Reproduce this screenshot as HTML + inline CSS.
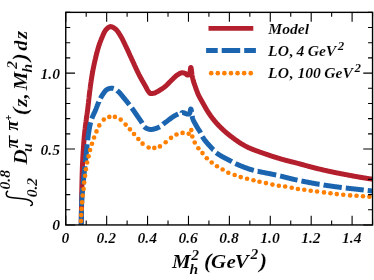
<!DOCTYPE html>
<html><head><meta charset="utf-8"><title>plot</title>
<style>html,body{margin:0;padding:0;background:#fff;}svg{display:block;will-change:transform;}text{font-family:"Liberation Serif",serif;font-weight:bold;font-style:italic;fill:#000;stroke:#fff;stroke-width:0.12px;}</style></head>
<body>
<svg width="374" height="280" viewBox="0 0 374 280">
<rect width="374" height="280" fill="#fff"/>
<defs><clipPath id="c"><rect x="65.75" y="12.35" width="306.8" height="212.6"/></clipPath></defs>
<g clip-path="url(#c)" fill="none" stroke-linejoin="round">
<path d="M81.20,224.70 L81.21,224.20 L81.21,223.70 L81.22,223.20 L81.23,222.70 L81.23,222.20 L81.24,221.70 L81.25,221.20 L81.25,220.70 L81.26,220.20 L81.27,219.70 L81.28,219.20 L81.28,218.70 L81.29,218.20 L81.30,217.70 L81.31,217.20 L81.31,216.70 L81.32,216.20 L81.33,215.70 L81.34,215.20 L81.34,214.70 L81.35,214.20 L81.36,213.70 L81.37,213.20 L81.38,212.70 L81.38,212.20 L81.39,211.70 L81.40,211.20 L81.41,210.70 L81.42,210.20 L81.43,209.70 L81.43,209.20 L81.44,208.70 L81.45,208.20 L81.46,207.70 L81.47,207.20 L81.48,206.70 L81.49,206.20 L81.49,205.70 L81.50,205.20 L81.51,204.70 L81.52,204.20 L81.53,203.70 L81.54,203.20 L81.55,202.70 L81.56,202.20 L81.57,201.70 L81.58,201.20 L81.59,200.70 L81.60,200.20 L81.61,199.70 L81.62,199.20 L81.62,198.70 L81.63,198.20 L81.64,197.70 L81.65,197.20 L81.66,196.70 L81.67,196.20 L81.68,195.70 L81.69,195.20 L81.70,194.70 L81.71,194.20 L81.72,193.70 L81.73,193.20 L81.74,192.70 L81.75,192.20 L81.76,191.70 L81.77,191.20 L81.78,190.70 L81.79,190.20 L81.80,189.70 L81.81,189.20 L81.82,188.70 L81.83,188.20 L81.84,187.70 L81.85,187.20 L81.86,186.70 L81.87,186.20 L81.88,185.70 L81.89,185.20 L81.90,184.70 L81.91,184.20 L81.93,183.70 L81.94,183.20 L81.95,182.70 L81.96,182.21 L81.97,181.71 L81.98,181.21 L82.00,180.71 L82.01,180.21 L82.02,179.71 L82.03,179.21 L82.05,178.71 L82.06,178.21 L82.07,177.71 L82.09,177.21 L82.10,176.71 L82.11,176.21 L82.13,175.71 L82.14,175.21 L82.15,174.71 L82.17,174.21 L82.18,173.71 L82.20,173.21 L82.21,172.71 L82.23,172.21 L82.24,171.71 L82.26,171.21 L82.28,170.71 L82.29,170.21 L82.31,169.71 L82.33,169.21 L82.34,168.71 L82.36,168.21 L82.38,167.71 L82.40,167.21 L82.42,166.71 L82.44,166.21 L82.46,165.71 L82.48,165.22 L82.50,164.72 L82.52,164.22 L82.54,163.72 L82.57,163.22 L82.59,162.72 L82.61,162.22 L82.63,161.72 L82.66,161.22 L82.68,160.72 L82.71,160.22 L82.73,159.72 L82.76,159.22 L82.78,158.72 L82.81,158.22 L82.84,157.72 L82.86,157.22 L82.89,156.72 L82.92,156.22 L82.95,155.72 L82.97,155.22 L83.00,154.72 L83.03,154.23 L83.06,153.73 L83.09,153.23 L83.12,152.73 L83.15,152.23 L83.18,151.73 L83.21,151.23 L83.25,150.73 L83.28,150.23 L83.31,149.73 L83.34,149.23 L83.38,148.73 L83.41,148.24 L83.44,147.74 L83.48,147.24 L83.51,146.74 L83.54,146.24 L83.58,145.74 L83.61,145.24 L83.65,144.74 L83.69,144.25 L83.72,143.75 L83.76,143.25 L83.79,142.75 L83.83,142.25 L83.87,141.75 L83.90,141.25 L83.94,140.76 L83.98,140.26 L84.02,139.76 L84.06,139.26 L84.10,138.76 L84.14,138.27 L84.18,137.77 L84.23,137.27 L84.27,136.77 L84.32,136.28 L84.37,135.78 L84.41,135.28 L84.46,134.78 L84.51,134.29 L84.56,133.79 L84.62,133.29 L84.67,132.79 L84.72,132.30 L84.78,131.80 L84.83,131.30 L84.89,130.80 L84.94,130.31 L85.00,129.81 L85.06,129.31 L85.12,128.82 L85.17,128.32 L85.23,127.82 L85.29,127.33 L85.35,126.83 L85.41,126.33 L85.47,125.84 L85.53,125.34 L85.60,124.84 L85.66,124.35 L85.72,123.85 L85.78,123.35 L85.84,122.86 L85.90,122.36 L85.97,121.87 L86.03,121.37 L86.09,120.87 L86.15,120.38 L86.21,119.88 L86.28,119.39 L86.34,118.89 L86.41,118.39 L86.48,117.90 L86.55,117.40 L86.62,116.91 L86.69,116.41 L86.76,115.92 L86.83,115.42 L86.91,114.93 L86.98,114.43 L87.05,113.94 L87.12,113.44 L87.20,112.95 L87.27,112.45 L87.34,111.96 L87.41,111.46 L87.47,110.97 L87.54,110.47 L87.60,109.98 L87.67,109.48 L87.73,108.99 L87.79,108.49 L87.85,107.99 L87.91,107.50 L87.97,107.00 L88.02,106.50 L88.08,106.01 L88.14,105.51 L88.19,105.01 L88.25,104.52 L88.31,104.02 L88.36,103.52 L88.42,103.03 L88.47,102.53 L88.52,102.03 L88.58,101.53 L88.63,101.04 L88.68,100.54 L88.74,100.04 L88.79,99.54 L88.85,99.05 L88.90,98.55 L88.95,98.05 L89.01,97.56 L89.06,97.06 L89.12,96.56 L89.17,96.06 L89.23,95.57 L89.29,95.07 L89.34,94.57 L89.40,94.08 L89.46,93.58 L89.52,93.08 L89.58,92.59 L89.64,92.09 L89.70,91.60 L89.76,91.10 L89.82,90.60 L89.89,90.11 L89.95,89.61 L90.02,89.12 L90.08,88.62 L90.15,88.13 L90.21,87.63 L90.28,87.13 L90.35,86.64 L90.41,86.14 L90.48,85.65 L90.55,85.15 L90.62,84.66 L90.69,84.16 L90.76,83.67 L90.83,83.17 L90.90,82.68 L90.97,82.18 L91.05,81.69 L91.12,81.19 L91.19,80.70 L91.27,80.20 L91.34,79.71 L91.42,79.21 L91.49,78.72 L91.57,78.22 L91.65,77.73 L91.72,77.24 L91.80,76.74 L91.88,76.25 L91.96,75.75 L92.04,75.26 L92.13,74.77 L92.21,74.28 L92.29,73.78 L92.38,73.29 L92.46,72.80 L92.55,72.31 L92.63,71.81 L92.72,71.32 L92.81,70.83 L92.90,70.34 L92.99,69.85 L93.09,69.36 L93.18,68.87 L93.28,68.38 L93.38,67.89 L93.48,67.39 L93.58,66.90 L93.68,66.41 L93.78,65.93 L93.89,65.44 L93.99,64.95 L94.10,64.46 L94.20,63.97 L94.31,63.48 L94.42,62.99 L94.53,62.50 L94.64,62.02 L94.75,61.53 L94.86,61.04 L94.97,60.55 L95.08,60.07 L95.20,59.58 L95.31,59.09 L95.43,58.61 L95.54,58.12 L95.66,57.63 L95.77,57.15 L95.89,56.66 L96.01,56.17 L96.13,55.69 L96.25,55.20 L96.37,54.71 L96.49,54.23 L96.61,53.74 L96.74,53.26 L96.86,52.77 L96.99,52.29 L97.12,51.80 L97.25,51.32 L97.38,50.84 L97.51,50.36 L97.65,49.88 L97.79,49.40 L97.92,48.92 L98.06,48.44 L98.21,47.96 L98.35,47.48 L98.50,47.01 L98.65,46.53 L98.80,46.05 L98.95,45.58 L99.11,45.10 L99.27,44.63 L99.43,44.15 L99.59,43.68 L99.76,43.21 L99.93,42.73 L100.10,42.26 L100.27,41.79 L100.45,41.32 L100.62,40.85 L100.81,40.39 L100.99,39.92 L101.18,39.45 L101.36,38.99 L101.55,38.53 L101.75,38.07 L101.94,37.61 L102.14,37.16 L102.34,36.70 L102.55,36.24 L102.75,35.77 L102.95,35.30 L103.16,34.82 L103.37,34.35 L103.58,33.87 L103.80,33.40 L104.02,32.93 L104.25,32.47 L104.48,32.01 L104.73,31.57 L104.98,31.15 L105.24,30.73 L105.52,30.34 L105.80,29.97 L106.10,29.61 L106.41,29.27 L106.76,28.91 L107.14,28.54 L107.55,28.17 L107.97,27.82 L108.41,27.48 L108.86,27.19 L109.32,26.94 L109.77,26.75 L110.22,26.63 L110.65,26.60 L111.10,26.64 L111.56,26.75 L112.03,26.91 L112.50,27.12 L112.98,27.36 L113.45,27.63 L113.91,27.92 L114.35,28.22 L114.78,28.53 L115.17,28.83 L115.54,29.11 L115.90,29.42 L116.24,29.74 L116.58,30.09 L116.90,30.45 L117.22,30.83 L117.53,31.23 L117.83,31.64 L118.13,32.05 L118.42,32.48 L118.71,32.92 L118.99,33.36 L119.26,33.80 L119.53,34.24 L119.80,34.68 L120.07,35.12 L120.33,35.55 L120.59,35.98 L120.84,36.40 L121.10,36.83 L121.35,37.26 L121.59,37.69 L121.83,38.13 L122.07,38.57 L122.30,39.01 L122.53,39.46 L122.76,39.90 L122.98,40.35 L123.20,40.80 L123.43,41.25 L123.64,41.70 L123.86,42.15 L124.08,42.61 L124.30,43.06 L124.51,43.51 L124.73,43.97 L124.94,44.42 L125.16,44.87 L125.37,45.33 L125.59,45.78 L125.81,46.23 L126.03,46.68 L126.24,47.13 L126.46,47.58 L126.67,48.03 L126.88,48.48 L127.10,48.94 L127.31,49.39 L127.52,49.84 L127.73,50.30 L127.93,50.75 L128.14,51.20 L128.35,51.66 L128.56,52.11 L128.77,52.57 L128.97,53.03 L129.18,53.48 L129.39,53.94 L129.59,54.39 L129.80,54.85 L130.01,55.30 L130.21,55.76 L130.42,56.21 L130.63,56.67 L130.83,57.12 L131.04,57.58 L131.25,58.03 L131.46,58.49 L131.67,58.94 L131.88,59.39 L132.09,59.85 L132.30,60.30 L132.51,60.76 L132.72,61.21 L132.93,61.67 L133.13,62.12 L133.34,62.58 L133.55,63.03 L133.76,63.49 L133.96,63.94 L134.17,64.40 L134.38,64.85 L134.58,65.31 L134.79,65.76 L135.00,66.22 L135.21,66.67 L135.42,67.13 L135.63,67.58 L135.84,68.04 L136.05,68.49 L136.26,68.95 L136.47,69.40 L136.68,69.85 L136.89,70.30 L137.11,70.76 L137.32,71.21 L137.54,71.66 L137.76,72.11 L137.98,72.56 L138.20,73.00 L138.42,73.45 L138.64,73.90 L138.87,74.34 L139.09,74.79 L139.32,75.23 L139.55,75.68 L139.78,76.12 L140.01,76.56 L140.25,77.00 L140.49,77.44 L140.73,77.88 L140.97,78.32 L141.21,78.76 L141.45,79.19 L141.69,79.63 L141.94,80.07 L142.19,80.50 L142.43,80.94 L142.68,81.37 L142.93,81.81 L143.18,82.24 L143.42,82.67 L143.67,83.11 L143.92,83.54 L144.17,83.98 L144.42,84.41 L144.67,84.84 L144.92,85.28 L145.17,85.71 L145.42,86.15 L145.66,86.58 L145.91,87.02 L146.15,87.46 L146.39,87.90 L146.62,88.35 L146.85,88.80 L147.09,89.25 L147.33,89.69 L147.58,90.12 L147.84,90.54 L148.12,90.95 L148.41,91.35 L148.72,91.79 L149.05,92.26 L149.39,92.71 L149.76,93.10 L150.14,93.38 L150.54,93.50 L150.98,93.49 L151.46,93.47 L151.98,93.44 L152.50,93.40 L153.03,93.35 L153.52,93.30 L154.00,93.21 L154.47,93.07 L154.93,92.88 L155.39,92.67 L155.85,92.43 L156.30,92.18 L156.75,91.94 L157.19,91.70 L157.63,91.48 L158.07,91.24 L158.51,91.00 L158.94,90.75 L159.37,90.50 L159.81,90.24 L160.23,89.97 L160.66,89.71 L161.08,89.43 L161.50,89.15 L161.92,88.87 L162.34,88.59 L162.75,88.30 L163.15,88.00 L163.56,87.71 L163.96,87.41 L164.35,87.10 L164.75,86.80 L165.13,86.49 L165.51,86.18 L165.89,85.86 L166.26,85.53 L166.62,85.19 L166.99,84.85 L167.34,84.50 L167.70,84.15 L168.05,83.79 L168.40,83.43 L168.75,83.07 L169.10,82.71 L169.45,82.34 L169.80,81.98 L170.15,81.62 L170.50,81.26 L170.86,80.90 L171.21,80.55 L171.57,80.20 L171.94,79.86 L172.30,79.52 L172.66,79.17 L173.03,78.81 L173.39,78.45 L173.75,78.09 L174.11,77.73 L174.47,77.37 L174.83,77.01 L175.20,76.67 L175.57,76.32 L175.95,75.99 L176.33,75.67 L176.71,75.36 L177.11,75.07 L177.51,74.80 L177.92,74.55 L178.34,74.30 L178.78,74.04 L179.23,73.77 L179.69,73.52 L180.15,73.28 L180.63,73.08 L181.10,72.93 L181.58,72.83 L182.06,72.80 L182.55,72.82 L183.05,72.88 L183.56,72.96 L184.06,73.06 L184.55,73.18 L185.02,73.31 L185.45,73.52 L185.86,73.86 L186.26,74.25 L186.66,74.62 L187.06,74.89 L187.50,75.00 L188.02,74.95 L188.59,74.82 L189.07,74.64 L189.35,74.45 L189.53,74.15 L189.68,73.73 L189.82,73.22 L189.95,72.63 L190.05,71.98 L190.15,71.30 L190.24,70.61 L190.32,69.93 L190.39,69.29 L190.47,68.71 L190.54,68.21 L190.61,67.81 L190.69,67.53 L190.78,67.41 L190.87,67.43 L190.95,67.56 L191.03,67.79 L191.11,68.11 L191.19,68.50 L191.27,68.96 L191.34,69.48 L191.42,70.05 L191.49,70.65 L191.56,71.28 L191.64,71.93 L191.71,72.59 L191.79,73.24 L191.87,73.89 L191.96,74.51 L192.04,75.10 L192.13,75.65 L192.23,76.15 L192.33,76.64 L192.44,77.13 L192.54,77.62 L192.66,78.11 L192.77,78.60 L192.89,79.08 L193.02,79.57 L193.14,80.05 L193.27,80.53 L193.40,81.02 L193.54,81.49 L193.69,81.97 L193.84,82.45 L193.99,82.92 L194.15,83.40 L194.31,83.87 L194.48,84.35 L194.65,84.82 L194.81,85.29 L194.98,85.76 L195.15,86.23 L195.31,86.70 L195.48,87.18 L195.64,87.65 L195.81,88.12 L195.98,88.59 L196.15,89.07 L196.32,89.54 L196.49,90.01 L196.66,90.48 L196.83,90.95 L197.01,91.42 L197.19,91.89 L197.37,92.35 L197.56,92.82 L197.75,93.28 L197.94,93.74 L198.13,94.20 L198.33,94.65 L198.54,95.10 L198.75,95.55 L198.97,96.00 L199.19,96.45 L199.42,96.89 L199.65,97.33 L199.89,97.77 L200.13,98.21 L200.37,98.65 L200.62,99.09 L200.87,99.52 L201.12,99.96 L201.37,100.39 L201.62,100.83 L201.87,101.26 L202.12,101.70 L202.37,102.13 L202.61,102.57 L202.86,103.00 L203.10,103.44 L203.34,103.88 L203.58,104.32 L203.83,104.75 L204.07,105.19 L204.31,105.63 L204.55,106.07 L204.80,106.51 L205.04,106.94 L205.29,107.38 L205.53,107.81 L205.78,108.25 L206.03,108.68 L206.29,109.11 L206.54,109.54 L206.80,109.97 L207.06,110.39 L207.32,110.82 L207.59,111.24 L207.86,111.66 L208.13,112.08 L208.40,112.50 L208.67,112.92 L208.95,113.34 L209.23,113.75 L209.51,114.17 L209.79,114.58 L210.08,114.99 L210.36,115.41 L210.65,115.82 L210.94,116.22 L211.24,116.63 L211.53,117.03 L211.83,117.44 L212.13,117.84 L212.43,118.24 L212.74,118.63 L213.04,119.02 L213.35,119.41 L213.66,119.80 L213.98,120.19 L214.29,120.57 L214.61,120.96 L214.94,121.34 L215.26,121.72 L215.59,122.10 L215.92,122.47 L216.25,122.85 L216.59,123.22 L216.92,123.59 L217.26,123.96 L217.61,124.33 L217.95,124.70 L218.29,125.06 L218.64,125.42 L218.99,125.78 L219.34,126.14 L219.69,126.50 L220.04,126.85 L220.40,127.21 L220.75,127.56 L221.11,127.90 L221.46,128.25 L221.82,128.60 L222.18,128.94 L222.55,129.28 L222.91,129.63 L223.28,129.97 L223.65,130.31 L224.02,130.64 L224.39,130.98 L224.76,131.32 L225.14,131.65 L225.52,131.98 L225.89,132.31 L226.27,132.64 L226.66,132.97 L227.04,133.29 L227.42,133.61 L227.81,133.93 L228.20,134.25 L228.58,134.56 L228.97,134.88 L229.36,135.19 L229.76,135.50 L230.15,135.80 L230.54,136.11 L230.94,136.41 L231.34,136.71 L231.73,137.01 L232.13,137.31 L232.53,137.61 L232.93,137.91 L233.34,138.21 L233.74,138.50 L234.15,138.80 L234.55,139.10 L234.96,139.40 L235.37,139.69 L235.78,139.98 L236.19,140.28 L236.60,140.57 L237.01,140.86 L237.43,141.15 L237.84,141.43 L238.26,141.72 L238.68,142.00 L239.09,142.28 L239.51,142.56 L239.94,142.83 L240.36,143.11 L240.78,143.38 L241.21,143.64 L241.63,143.91 L242.06,144.17 L242.49,144.43 L242.92,144.69 L243.35,144.94 L243.78,145.19 L244.21,145.43 L244.65,145.67 L245.08,145.91 L245.52,146.14 L245.96,146.37 L246.40,146.60 L246.84,146.82 L247.28,147.04 L247.72,147.25 L248.17,147.46 L248.62,147.67 L249.07,147.87 L249.52,148.07 L249.98,148.27 L250.44,148.47 L250.89,148.66 L251.35,148.85 L251.82,149.04 L252.28,149.23 L252.75,149.42 L253.21,149.60 L253.68,149.78 L254.15,149.96 L254.62,150.14 L255.09,150.31 L255.56,150.49 L256.03,150.66 L256.51,150.83 L256.98,151.00 L257.45,151.17 L257.93,151.34 L258.40,151.51 L258.88,151.68 L259.35,151.85 L259.83,152.01 L260.30,152.18 L260.78,152.34 L261.25,152.51 L261.72,152.68 L262.20,152.84 L262.67,153.01 L263.14,153.17 L263.61,153.34 L264.08,153.51 L264.55,153.67 L265.03,153.84 L265.50,154.00 L265.97,154.16 L266.44,154.33 L266.92,154.49 L267.39,154.65 L267.86,154.81 L268.34,154.98 L268.81,155.14 L269.28,155.30 L269.76,155.45 L270.23,155.61 L270.71,155.77 L271.18,155.93 L271.66,156.08 L272.13,156.24 L272.61,156.39 L273.09,156.55 L273.56,156.70 L274.04,156.85 L274.52,157.00 L274.99,157.15 L275.47,157.30 L275.95,157.45 L276.43,157.60 L276.90,157.75 L277.38,157.90 L277.86,158.04 L278.34,158.19 L278.82,158.33 L279.30,158.47 L279.78,158.61 L280.25,158.75 L280.73,158.89 L281.21,159.03 L281.69,159.17 L282.17,159.31 L282.66,159.44 L283.14,159.57 L283.62,159.71 L284.10,159.84 L284.58,159.97 L285.07,160.09 L285.55,160.22 L286.03,160.35 L286.52,160.47 L287.00,160.60 L287.49,160.72 L287.97,160.85 L288.46,160.97 L288.94,161.09 L289.43,161.22 L289.91,161.34 L290.40,161.46 L290.88,161.58 L291.37,161.70 L291.85,161.83 L292.34,161.95 L292.82,162.07 L293.31,162.19 L293.79,162.32 L294.28,162.44 L294.76,162.56 L295.25,162.69 L295.73,162.81 L296.21,162.94 L296.70,163.07 L297.18,163.19 L297.66,163.32 L298.15,163.45 L298.63,163.58 L299.11,163.71 L299.59,163.84 L300.08,163.98 L300.56,164.11 L301.04,164.24 L301.52,164.37 L302.01,164.51 L302.49,164.64 L302.97,164.77 L303.45,164.90 L303.93,165.04 L304.42,165.17 L304.90,165.30 L305.38,165.44 L305.86,165.57 L306.34,165.70 L306.83,165.83 L307.31,165.97 L307.79,166.10 L308.27,166.23 L308.76,166.36 L309.24,166.49 L309.72,166.62 L310.21,166.75 L310.69,166.88 L311.17,167.00 L311.66,167.13 L312.14,167.25 L312.62,167.38 L313.11,167.50 L313.59,167.62 L314.08,167.75 L314.56,167.87 L315.05,167.99 L315.53,168.11 L316.02,168.23 L316.50,168.35 L316.99,168.47 L317.48,168.59 L317.96,168.70 L318.45,168.82 L318.93,168.94 L319.42,169.06 L319.91,169.17 L320.39,169.29 L320.88,169.41 L321.37,169.52 L321.85,169.64 L322.34,169.75 L322.83,169.87 L323.31,169.98 L323.80,170.09 L324.29,170.20 L324.78,170.32 L325.26,170.43 L325.75,170.54 L326.24,170.65 L326.73,170.76 L327.21,170.87 L327.70,170.98 L328.19,171.08 L328.68,171.19 L329.17,171.30 L329.65,171.40 L330.14,171.51 L330.63,171.61 L331.12,171.72 L331.61,171.82 L332.10,171.92 L332.59,172.03 L333.08,172.13 L333.57,172.23 L334.06,172.33 L334.55,172.43 L335.04,172.53 L335.53,172.63 L336.02,172.73 L336.51,172.83 L337.00,172.92 L337.49,173.02 L337.98,173.12 L338.47,173.21 L338.96,173.31 L339.45,173.41 L339.94,173.50 L340.43,173.60 L340.92,173.69 L341.42,173.79 L341.91,173.88 L342.40,173.98 L342.89,174.07 L343.38,174.16 L343.87,174.26 L344.36,174.35 L344.85,174.44 L345.34,174.54 L345.84,174.63 L346.33,174.72 L346.82,174.82 L347.31,174.91 L347.80,175.00 L348.29,175.10 L348.78,175.19 L349.28,175.28 L349.77,175.37 L350.26,175.47 L350.75,175.56 L351.24,175.65 L351.73,175.74 L352.22,175.83 L352.72,175.92 L353.21,176.02 L353.70,176.11 L354.19,176.20 L354.68,176.29 L355.18,176.38 L355.67,176.47 L356.16,176.55 L356.65,176.64 L357.14,176.73 L357.64,176.82 L358.13,176.90 L358.62,176.99 L359.11,177.08 L359.61,177.16 L360.10,177.25 L360.59,177.33 L361.08,177.41 L361.58,177.50 L362.07,177.58 L362.56,177.66 L363.06,177.74 L363.55,177.82 L364.04,177.90 L364.54,177.98 L365.03,178.06 L365.53,178.14 L366.02,178.21 L366.51,178.29 L367.01,178.37 L367.50,178.44 L368.00,178.52 L368.49,178.60 L368.98,178.67 L369.48,178.74 L369.97,178.82 L370.47,178.89 L370.96,178.96 L371.46,179.04 L371.95,179.11 L372.45,179.18 L372.60,179.20" stroke="#b41f2e" stroke-width="5.0"/>
<path d="M81.30,224.70 L81.30,224.70 L81.30,224.30 L81.30,223.90 L81.30,223.50 L81.30,223.10 L81.30,222.70 L81.31,222.30 L81.31,221.90 L81.31,221.50 L81.31,221.10 L81.32,220.70 L81.32,220.30 L81.32,219.90 L81.33,219.50 L81.33,219.10 L81.33,218.70 L81.34,218.30 L81.34,217.90 L81.35,217.50 L81.35,217.10 L81.36,216.70 L81.37,216.30 L81.37,215.90 L81.38,215.50 L81.38,215.10 L81.39,214.70 L81.40,214.30 L81.40,213.90 L81.41,213.50 L81.42,213.10 L81.43,212.70 L81.43,212.30 L81.44,211.90 L81.45,211.50 L81.46,211.10 L81.47,210.70 L81.48,210.30 L81.48,210.27 M81.57,206.27 L81.57,206.20 L81.58,205.80 L81.59,205.40 L81.60,205.00 L81.61,204.60 L81.62,204.20 L81.64,203.80 L81.65,203.40 L81.66,203.01 L81.68,202.61 L81.70,202.21 L81.72,201.81 L81.74,201.41 L81.76,201.01 L81.78,200.61 L81.80,200.21 L81.82,199.81 L81.85,199.41 L81.87,199.01 L81.90,198.61 L81.92,198.21 L81.95,197.81 L81.98,197.42 L82.00,197.02 L82.03,196.62 L82.06,196.22 L82.09,195.82 L82.12,195.42 L82.15,195.02 L82.19,194.62 L82.22,194.22 L82.25,193.82 L82.28,193.42 L82.31,193.03 L82.35,192.63 L82.38,192.23 L82.41,191.83 L82.45,191.43 L82.48,191.03 L82.52,190.63 L82.55,190.23 L82.59,189.83 L82.62,189.44 L82.66,189.04 L82.69,188.64 L82.72,188.24 L82.73,188.21 M83.07,184.22 L83.07,184.15 L83.11,183.76 L83.14,183.36 L83.17,182.96 L83.21,182.56 L83.25,182.16 L83.28,181.76 L83.32,181.37 L83.35,180.97 L83.39,180.57 L83.43,180.17 L83.47,179.77 L83.50,179.38 L83.54,178.98 L83.58,178.58 L83.62,178.18 L83.66,177.78 L83.70,177.38 L83.74,176.99 L83.78,176.59 L83.82,176.19 L83.86,175.79 L83.90,175.39 L83.94,175.00 L83.98,174.60 L84.03,174.20 L84.07,173.80 L84.11,173.40 L84.15,173.01 L84.19,172.61 L84.24,172.21 L84.28,171.81 L84.32,171.42 L84.36,171.02 L84.41,170.62 L84.45,170.22 L84.49,169.82 L84.54,169.43 L84.58,169.03 L84.62,168.63 L84.67,168.23 L84.71,167.84 L84.75,167.44 L84.80,167.04 L84.84,166.64 L84.89,166.25 L84.89,166.22 M85.33,162.24 L85.34,162.17 L85.38,161.77 L85.42,161.37 L85.47,160.98 L85.51,160.58 L85.55,160.18 L85.59,159.78 L85.63,159.38 L85.68,158.99 L85.72,158.59 L85.76,158.19 L85.80,157.79 L85.84,157.39 L85.88,156.99 L85.92,156.59 L85.96,156.19 L86.00,155.80 L86.04,155.40 L86.09,155.00 L86.13,154.60 L86.17,154.20 L86.21,153.80 L86.25,153.40 L86.29,153.00 L86.33,152.60 L86.37,152.20 L86.41,151.80 L86.45,151.40 L86.49,151.01 L86.53,150.61 L86.57,150.21 L86.61,149.81 L86.65,149.41 L86.69,149.01 L86.73,148.61 L86.78,148.21 L86.82,147.81 L86.86,147.41 L86.90,147.01 L86.94,146.61 L86.99,146.22 L87.03,145.82 L87.07,145.42 L87.11,145.02 L87.16,144.62 L87.20,144.24 M87.66,140.26 L87.66,140.24 L87.71,139.84 L87.76,139.45 L87.81,139.05 L87.86,138.65 L87.91,138.26 L87.96,137.86 L88.01,137.46 L88.06,137.07 L88.11,136.67 L88.17,136.27 L88.22,135.88 L88.27,135.48 L88.33,135.09 L88.38,134.69 L88.44,134.30 L88.50,133.90 L88.55,133.51 L88.61,133.11 L88.67,132.72 L88.73,132.33 L88.79,131.93 L88.85,131.54 L88.91,131.14 L88.98,130.75 L89.04,130.36 L89.10,129.97 L89.17,129.57 L89.23,129.18 L89.30,128.79 L89.37,128.40 L89.44,128.01 L89.51,127.62 L89.58,127.23 L89.65,126.84 L89.72,126.44 L89.80,126.05 L89.89,125.66 L89.97,125.27 L90.06,124.88 L90.15,124.49 L90.25,124.10 L90.35,123.71 L90.45,123.32 L90.55,122.94 L90.66,122.55 L90.69,122.43 M91.86,118.61 L91.89,118.53 L92.02,118.15 L92.15,117.78 L92.28,117.40 L92.43,117.03 L92.58,116.66 L92.73,116.29 L92.88,115.93 L93.05,115.56 L93.21,115.19 L93.38,114.83 L93.54,114.47 L93.71,114.10 L93.89,113.74 L94.06,113.38 L94.23,113.01 L94.40,112.65 L94.57,112.29 L94.74,111.92 L94.91,111.56 L95.07,111.19 L95.23,110.82 L95.39,110.46 L95.55,110.09 L95.70,109.72 L95.85,109.35 L95.99,108.97 L96.14,108.60 L96.28,108.23 L96.42,107.85 L96.56,107.48 L96.70,107.10 L96.84,106.72 L96.99,106.35 L97.13,105.97 L97.27,105.60 L97.41,105.22 L97.55,104.85 L97.70,104.48 L97.85,104.11 L98.00,103.74 L98.15,103.37 L98.30,103.00 L98.46,102.63 L98.62,102.27 L98.79,101.91 L98.79,101.90 M100.52,98.29 L100.53,98.27 L100.71,97.92 L100.90,97.56 L101.09,97.20 L101.29,96.85 L101.48,96.50 L101.68,96.16 L101.89,95.81 L102.10,95.47 L102.31,95.14 L102.52,94.81 L102.74,94.48 L102.96,94.16 L103.19,93.83 L103.42,93.50 L103.65,93.16 L103.90,92.81 L104.14,92.47 L104.39,92.12 L104.65,91.78 L104.91,91.44 L105.18,91.11 L105.46,90.80 L105.74,90.50 L106.03,90.22 L106.32,89.96 L106.62,89.72 L106.93,89.51 L107.24,89.32 L107.56,89.17 L107.90,89.03 L108.26,88.89 L108.64,88.76 L109.03,88.63 L109.43,88.51 L109.84,88.41 L110.25,88.33 L110.65,88.26 L111.06,88.22 L111.45,88.20 L111.85,88.21 L112.25,88.25 L112.65,88.31 L113.05,88.40 L113.45,88.49 L113.70,88.56 M117.16,90.47 L117.20,90.51 L117.51,90.78 L117.81,91.04 L118.11,91.30 L118.40,91.56 L118.69,91.83 L118.97,92.10 L119.25,92.39 L119.52,92.67 L119.79,92.97 L120.06,93.27 L120.32,93.57 L120.58,93.87 L120.84,94.18 L121.09,94.50 L121.35,94.81 L121.60,95.13 L121.85,95.44 L122.11,95.76 L122.36,96.08 L122.61,96.39 L122.86,96.71 L123.12,97.02 L123.37,97.33 L123.63,97.64 L123.89,97.94 L124.14,98.25 L124.40,98.55 L124.66,98.86 L124.91,99.17 L125.17,99.48 L125.42,99.79 L125.68,100.09 L125.93,100.40 L126.18,100.71 L126.44,101.02 L126.69,101.34 L126.94,101.65 L127.19,101.96 L127.44,102.27 L127.69,102.58 L127.94,102.90 L128.19,103.21 L128.44,103.52 L128.68,103.84 L128.93,104.15 L129.18,104.47 L129.36,104.71 M131.75,107.91 L131.81,107.99 L132.05,108.32 L132.28,108.64 L132.51,108.97 L132.74,109.29 L132.97,109.62 L133.21,109.94 L133.44,110.27 L133.67,110.60 L133.90,110.93 L134.12,111.25 L134.35,111.58 L134.58,111.91 L134.81,112.24 L135.04,112.57 L135.26,112.90 L135.49,113.23 L135.72,113.56 L135.94,113.89 L136.17,114.22 L136.40,114.55 L136.62,114.88 L136.85,115.21 L137.07,115.54 L137.30,115.87 L137.53,116.20 L137.75,116.53 L137.98,116.86 L138.20,117.19 L138.43,117.52 L138.66,117.85 L138.88,118.18 L139.11,118.51 L139.34,118.84 L139.57,119.16 L139.79,119.49 L140.02,119.82 L140.25,120.15 L140.48,120.48 L140.70,120.81 L140.93,121.14 L141.15,121.47 L141.37,121.81 L141.59,122.14 L141.81,122.48 L142.02,122.83 L142.22,123.19 L142.24,123.22 M144.24,126.67 L144.28,126.71 L144.53,126.96 L144.80,127.18 L145.09,127.39 L145.40,127.60 L145.73,127.81 L146.08,128.02 L146.44,128.22 L146.81,128.41 L147.20,128.60 L147.59,128.77 L147.99,128.93 L148.40,129.07 L148.80,129.20 L149.21,129.31 L149.61,129.39 L150.01,129.45 L150.40,129.49 L150.78,129.50 L151.16,129.49 L151.55,129.46 L151.94,129.43 L152.33,129.38 L152.72,129.31 L153.12,129.24 L153.52,129.15 L153.91,129.06 L154.31,128.96 L154.71,128.84 L155.11,128.72 L155.51,128.60 L155.90,128.46 L156.29,128.33 L156.68,128.18 L157.06,128.04 L157.44,127.89 L157.82,127.74 L158.19,127.58 L158.55,127.43 L158.91,127.27 L159.26,127.12 L159.60,126.95 L159.85,126.82 M162.96,124.32 L163.00,124.28 L163.32,124.03 L163.64,123.80 L163.96,123.56 L164.29,123.32 L164.61,123.08 L164.93,122.83 L165.25,122.59 L165.57,122.34 L165.89,122.10 L166.21,121.85 L166.53,121.60 L166.85,121.35 L167.17,121.10 L167.49,120.85 L167.81,120.60 L168.13,120.35 L168.45,120.10 L168.77,119.85 L169.10,119.61 L169.42,119.36 L169.74,119.11 L170.07,118.87 L170.39,118.63 L170.72,118.39 L171.04,118.15 L171.37,117.92 L171.70,117.68 L172.03,117.45 L172.36,117.22 L172.69,117.00 L173.02,116.78 L173.36,116.56 L173.69,116.35 L174.03,116.14 L174.37,115.93 L174.71,115.73 L175.05,115.53 L175.40,115.34 L175.74,115.16 L176.09,114.97 L176.44,114.80 L176.79,114.63 L177.14,114.46 L177.50,114.30 L177.86,114.14 L178.19,113.99 M181.94,112.64 L181.94,112.63 L182.33,112.60 L182.71,112.61 L183.09,112.65 L183.48,112.74 L183.86,112.86 L184.24,112.99 L184.63,113.15 L185.02,113.31 L185.40,113.48 L185.79,113.64 L186.17,113.79 L186.56,113.91 L186.94,114.01 L187.32,114.08 L187.71,114.10 L188.12,114.06 L188.56,113.95 L188.98,113.80 L189.33,113.63 L189.55,113.45 L189.72,113.17 L189.87,112.79 L190.00,112.34 L190.12,111.83 L190.23,111.30 L190.33,110.77 L190.42,110.26 L190.51,109.81 L190.59,109.43 L190.67,109.16 L190.76,109.02 L190.85,109.01 L190.94,109.09 L191.02,109.23 L191.09,109.43 L191.16,109.69 L191.23,110.00 L191.30,110.35 L191.36,110.75 L191.43,111.17 L191.49,111.63 L191.54,112.05 M192.08,116.02 L192.09,116.07 L192.18,116.54 L192.27,116.98 L192.37,117.38 L192.47,117.76 L192.59,118.13 L192.71,118.51 L192.84,118.88 L192.98,119.25 L193.13,119.61 L193.28,119.98 L193.44,120.35 L193.61,120.71 L193.78,121.07 L193.95,121.43 L194.13,121.79 L194.32,122.15 L194.51,122.51 L194.70,122.87 L194.90,123.22 L195.09,123.58 L195.29,123.93 L195.49,124.29 L195.70,124.64 L195.90,124.99 L196.10,125.34 L196.30,125.69 L196.50,126.04 L196.70,126.39 L196.90,126.74 L197.09,127.09 L197.29,127.44 L197.49,127.78 L197.70,128.12 L197.92,128.46 L198.13,128.80 L198.35,129.13 L198.57,129.47 L198.80,129.80 L199.02,130.14 L199.24,130.47 L199.45,130.81 L199.67,131.15 L199.88,131.49 L200.08,131.83 L200.28,132.18 L200.47,132.53 L200.65,132.88 L200.66,132.90 M202.34,136.52 L202.39,136.60 L202.58,136.94 L202.79,137.28 L203.00,137.61 L203.21,137.94 L203.42,138.27 L203.65,138.60 L203.87,138.92 L204.10,139.24 L204.33,139.56 L204.57,139.88 L204.81,140.20 L205.05,140.52 L205.30,140.83 L205.54,141.15 L205.80,141.46 L206.05,141.77 L206.31,142.08 L206.57,142.39 L206.83,142.69 L207.09,143.00 L207.36,143.30 L207.62,143.60 L207.89,143.91 L208.16,144.21 L208.43,144.51 L208.71,144.81 L208.98,145.11 L209.26,145.40 L209.53,145.70 L209.81,146.00 L210.09,146.29 L210.36,146.59 L210.64,146.88 L210.92,147.18 L211.20,147.47 L211.47,147.76 L211.75,148.05 L212.03,148.35 L212.30,148.64 L212.58,148.93 L212.85,149.22 L213.12,149.52 L213.39,149.81 L213.41,149.82 M216.22,152.66 L216.29,152.71 L216.60,152.96 L216.91,153.19 L217.22,153.43 L217.54,153.66 L217.86,153.89 L218.18,154.11 L218.51,154.33 L218.83,154.55 L219.17,154.77 L219.50,154.98 L219.84,155.20 L220.17,155.40 L220.52,155.61 L220.86,155.82 L221.20,156.02 L221.55,156.22 L221.90,156.42 L222.25,156.61 L222.60,156.81 L222.95,157.00 L223.31,157.20 L223.66,157.39 L224.02,157.58 L224.38,157.76 L224.74,157.95 L225.10,158.14 L225.46,158.33 L225.82,158.51 L226.18,158.70 L226.54,158.88 L226.90,159.06 L227.26,159.25 L227.62,159.43 L227.98,159.62 L228.34,159.80 L228.70,159.98 L229.06,160.17 L229.42,160.35 L229.78,160.54 L230.13,160.73 L230.49,160.91 L230.84,161.10 L231.20,161.29 L231.55,161.48 L231.90,161.67 L231.90,161.67 M235.44,163.55 L235.44,163.55 L235.80,163.73 L236.16,163.90 L236.52,164.06 L236.88,164.23 L237.25,164.39 L237.61,164.55 L237.98,164.71 L238.34,164.86 L238.71,165.02 L239.08,165.18 L239.45,165.33 L239.81,165.49 L240.18,165.64 L240.55,165.80 L240.92,165.95 L241.30,166.10 L241.67,166.25 L242.04,166.40 L242.41,166.55 L242.79,166.70 L243.16,166.84 L243.53,166.99 L243.91,167.13 L244.28,167.28 L244.66,167.42 L245.04,167.56 L245.41,167.70 L245.79,167.83 L246.17,167.97 L246.55,168.11 L246.93,168.24 L247.30,168.37 L247.68,168.50 L248.06,168.63 L248.44,168.76 L248.82,168.89 L249.21,169.01 L249.59,169.13 L249.97,169.26 L250.35,169.38 L250.73,169.49 L251.11,169.61 L251.50,169.73 L251.88,169.84 L252.26,169.95 L252.65,170.06 L253.03,170.17 L253.41,170.28 L253.80,170.38 M257.69,171.28 L257.70,171.28 L258.09,171.36 L258.48,171.45 L258.87,171.53 L259.26,171.62 L259.65,171.70 L260.04,171.78 L260.43,171.86 L260.83,171.94 L261.22,172.02 L261.61,172.10 L262.00,172.18 L262.39,172.26 L262.79,172.34 L263.18,172.42 L263.57,172.50 L263.96,172.57 L264.36,172.65 L264.75,172.73 L265.14,172.81 L265.53,172.88 L265.93,172.96 L266.32,173.04 L266.71,173.11 L267.10,173.19 L267.50,173.27 L267.89,173.34 L268.28,173.42 L268.67,173.50 L269.07,173.57 L269.46,173.65 L269.85,173.73 L270.25,173.81 L270.64,173.88 L271.03,173.96 L271.42,174.04 L271.81,174.12 L272.21,174.20 L272.60,174.28 L272.99,174.36 L273.38,174.44 L273.77,174.52 L274.16,174.60 L274.56,174.69 L274.95,174.77 L275.34,174.86 L275.73,174.94 L276.12,175.03 L276.22,175.05 M280.11,175.96 L280.11,175.96 L280.50,176.05 L280.89,176.14 L281.28,176.24 L281.67,176.33 L282.06,176.43 L282.44,176.52 L282.83,176.62 L283.22,176.72 L283.61,176.82 L284.00,176.91 L284.38,177.01 L284.77,177.11 L285.16,177.21 L285.55,177.31 L285.94,177.41 L286.32,177.51 L286.71,177.61 L287.10,177.71 L287.49,177.81 L287.87,177.90 L288.26,178.00 L288.65,178.10 L289.04,178.20 L289.43,178.30 L289.81,178.39 L290.20,178.49 L290.59,178.59 L290.98,178.68 L291.37,178.78 L291.76,178.87 L292.14,178.96 L292.53,179.05 L292.92,179.14 L293.31,179.23 L293.70,179.32 L294.09,179.41 L294.48,179.50 L294.87,179.58 L295.26,179.67 L295.65,179.75 L296.04,179.84 L296.44,179.92 L296.83,180.01 L297.22,180.09 L297.51,180.15 M301.43,180.97 L301.43,180.97 L301.82,181.05 L302.21,181.13 L302.60,181.21 L302.99,181.29 L303.39,181.37 L303.78,181.45 L304.17,181.53 L304.56,181.61 L304.96,181.69 L305.35,181.76 L305.74,181.84 L306.13,181.92 L306.53,182.00 L306.92,182.07 L307.31,182.15 L307.71,182.22 L308.10,182.30 L308.49,182.38 L308.88,182.45 L309.28,182.52 L309.67,182.60 L310.06,182.67 L310.46,182.75 L310.85,182.82 L311.25,182.89 L311.64,182.96 L312.03,183.04 L312.43,183.11 L312.82,183.18 L313.21,183.25 L313.61,183.32 L314.00,183.39 L314.39,183.46 L314.79,183.53 L315.18,183.60 L315.58,183.67 L315.97,183.74 L316.37,183.81 L316.76,183.87 L317.15,183.94 L317.55,184.01 L317.94,184.07 L318.34,184.14 L318.73,184.21 L319.12,184.27 L319.52,184.34 L319.62,184.35 M323.57,184.98 L323.66,185.00 L324.06,185.06 L324.45,185.12 L324.85,185.18 L325.25,185.24 L325.64,185.30 L326.04,185.36 L326.43,185.42 L326.83,185.48 L327.22,185.54 L327.62,185.60 L328.01,185.66 L328.41,185.72 L328.81,185.77 L329.20,185.83 L329.60,185.89 L329.99,185.95 L330.39,186.00 L330.79,186.06 L331.18,186.12 L331.58,186.17 L331.98,186.23 L332.37,186.28 L332.77,186.34 L333.16,186.40 L333.56,186.45 L333.96,186.50 L334.35,186.56 L334.75,186.61 L335.15,186.67 L335.54,186.72 L335.94,186.77 L336.34,186.83 L336.73,186.88 L337.13,186.93 L337.53,186.99 L337.92,187.04 L338.32,187.09 L338.72,187.14 L339.11,187.19 L339.51,187.25 L339.91,187.30 L340.30,187.35 L340.70,187.40 L341.10,187.45 L341.49,187.50 L341.79,187.54 M345.76,188.02 L345.86,188.03 L346.26,188.07 L346.65,188.12 L347.05,188.17 L347.45,188.21 L347.85,188.26 L348.24,188.30 L348.64,188.34 L349.04,188.39 L349.44,188.43 L349.83,188.48 L350.23,188.52 L350.63,188.56 L351.03,188.61 L351.42,188.65 L351.82,188.69 L352.22,188.74 L352.62,188.78 L353.02,188.82 L353.41,188.87 L353.81,188.91 L354.21,188.95 L354.61,189.00 L355.00,189.04 L355.40,189.08 L355.80,189.13 L356.20,189.17 L356.60,189.21 L356.99,189.26 L357.39,189.30 L357.79,189.34 L358.19,189.39 L358.58,189.43 L358.98,189.47 L359.38,189.52 L359.78,189.56 L360.17,189.61 L360.57,189.65 L360.97,189.70 L361.37,189.74 L361.76,189.79 L362.16,189.83 L362.56,189.88 L362.96,189.92 L363.35,189.97 L363.75,190.02 M367.72,190.50 L367.82,190.51 L368.22,190.56 L368.62,190.61 L369.01,190.65 L369.41,190.70 L369.81,190.75 L370.20,190.80 L370.60,190.85 L371.00,190.90 L371.39,190.95 L371.79,191.00 L372.19,191.05 L372.58,191.10 L372.60,191.10" stroke="#1b65b0" stroke-width="5.0"/>
<g fill="#ff7f00" stroke="none"><circle cx="81.00" cy="221.10" r="2.3"/><circle cx="81.20" cy="215.10" r="2.3"/><circle cx="81.60" cy="208.92" r="2.3"/><circle cx="82.10" cy="202.34" r="2.3"/><circle cx="82.70" cy="195.56" r="2.3"/><circle cx="83.60" cy="189.02" r="2.3"/><circle cx="84.21" cy="182.55" r="2.3"/><circle cx="85.10" cy="175.71" r="2.3"/><circle cx="85.93" cy="169.26" r="2.3"/><circle cx="87.11" cy="162.46" r="2.3"/><circle cx="88.59" cy="156.34" r="2.3"/><circle cx="90.10" cy="150.02" r="2.3"/><circle cx="92.00" cy="143.80" r="2.3"/><circle cx="94.09" cy="137.44" r="2.3"/><circle cx="96.50" cy="131.40" r="2.3"/><circle cx="99.29" cy="125.42" r="2.3"/><circle cx="103.83" cy="119.58" r="2.3"/><circle cx="109.31" cy="116.90" r="2.3"/><circle cx="114.91" cy="116.90" r="2.3"/><circle cx="120.71" cy="119.61" r="2.3"/><circle cx="125.61" cy="124.61" r="2.3"/><circle cx="129.93" cy="129.33" r="2.3"/><circle cx="134.02" cy="133.99" r="2.3"/><circle cx="138.37" cy="138.95" r="2.3"/><circle cx="142.59" cy="143.65" r="2.3"/><circle cx="148.64" cy="147.51" r="2.3"/><circle cx="154.33" cy="147.90" r="2.3"/><circle cx="159.93" cy="146.39" r="2.3"/><circle cx="165.68" cy="142.22" r="2.3"/><circle cx="171.04" cy="137.87" r="2.3"/><circle cx="176.48" cy="134.51" r="2.3"/><circle cx="182.58" cy="132.90" r="2.3"/><circle cx="188.71" cy="133.80" r="2.3"/><circle cx="191.31" cy="130.08" r="2.3"/><circle cx="192.28" cy="136.52" r="2.3"/><circle cx="194.73" cy="142.55" r="2.3"/><circle cx="198.39" cy="148.28" r="2.3"/><circle cx="202.47" cy="153.08" r="2.3"/><circle cx="206.80" cy="158.20" r="2.3"/><circle cx="211.68" cy="162.48" r="2.3"/><circle cx="217.01" cy="166.21" r="2.3"/><circle cx="222.61" cy="169.51" r="2.3"/><circle cx="228.32" cy="172.81" r="2.3"/><circle cx="234.66" cy="174.99" r="2.3"/><circle cx="240.70" cy="177.10" r="2.3"/><circle cx="247.08" cy="178.79" r="2.3"/><circle cx="253.50" cy="180.30" r="2.3"/><circle cx="259.52" cy="181.80" r="2.3"/><circle cx="265.99" cy="183.10" r="2.3"/><circle cx="272.42" cy="184.60" r="2.3"/><circle cx="278.82" cy="185.70" r="2.3"/><circle cx="285.17" cy="186.50" r="2.3"/><circle cx="291.74" cy="187.81" r="2.3"/><circle cx="297.93" cy="189.00" r="2.3"/><circle cx="304.28" cy="189.80" r="2.3"/><circle cx="310.72" cy="190.70" r="2.3"/><circle cx="317.07" cy="191.50" r="2.3"/><circle cx="324.01" cy="192.40" r="2.3"/><circle cx="330.45" cy="193.31" r="2.3"/><circle cx="336.80" cy="194.10" r="2.3"/><circle cx="343.26" cy="194.80" r="2.3"/><circle cx="350.13" cy="195.40" r="2.3"/><circle cx="356.52" cy="195.80" r="2.3"/><circle cx="363.00" cy="196.30" r="2.3"/><circle cx="369.39" cy="196.72" r="2.3"/></g>
</g>
<path d="M208.5,28.4 H253.3" stroke="#b41f2e" stroke-width="4.7" fill="none"/>
<path d="M206.1,50.6 H255.9" stroke="#1b65b0" stroke-width="5.0" fill="none" stroke-dasharray="18.5 4.0" stroke-dashoffset="6.9"/>
<g fill="#ff7f00"><circle cx="211.20" cy="73.15" r="2.3"/><circle cx="217.79" cy="73.15" r="2.3"/><circle cx="224.38" cy="73.15" r="2.3"/><circle cx="230.97" cy="73.15" r="2.3"/><circle cx="237.56" cy="73.15" r="2.3"/><circle cx="244.15" cy="73.15" r="2.3"/><circle cx="250.74" cy="73.15" r="2.3"/></g>
<rect x="65.75" y="12.35" width="306.8" height="212.6" fill="none" stroke="#000" stroke-width="1.4"/>
<path d="M65.75,224.95 v-9.3 M65.75,12.35 v9.3 M86.20,224.95 v-4.5 M86.20,12.35 v4.5 M106.66,224.95 v-9.3 M106.66,12.35 v9.3 M127.11,224.95 v-4.5 M127.11,12.35 v4.5 M147.56,224.95 v-9.3 M147.56,12.35 v9.3 M168.02,224.95 v-4.5 M168.02,12.35 v4.5 M188.47,224.95 v-9.3 M188.47,12.35 v9.3 M208.92,224.95 v-4.5 M208.92,12.35 v4.5 M229.38,224.95 v-9.3 M229.38,12.35 v9.3 M249.83,224.95 v-4.5 M249.83,12.35 v4.5 M270.28,224.95 v-9.3 M270.28,12.35 v9.3 M290.74,224.95 v-4.5 M290.74,12.35 v4.5 M311.19,224.95 v-9.3 M311.19,12.35 v9.3 M331.64,224.95 v-4.5 M331.64,12.35 v4.5 M352.10,224.95 v-9.3 M352.10,12.35 v9.3 M372.55,224.95 v-4.5 M372.55,12.35 v4.5 M65.75,224.95 h9.3 M372.55,224.95 h-9.3 M65.75,209.76 h4.5 M372.55,209.76 h-4.5 M65.75,194.58 h4.5 M372.55,194.58 h-4.5 M65.75,179.39 h4.5 M372.55,179.39 h-4.5 M65.75,164.21 h4.5 M372.55,164.21 h-4.5 M65.75,149.02 h9.3 M372.55,149.02 h-9.3 M65.75,133.84 h4.5 M372.55,133.84 h-4.5 M65.75,118.65 h4.5 M372.55,118.65 h-4.5 M65.75,103.46 h4.5 M372.55,103.46 h-4.5 M65.75,88.28 h4.5 M372.55,88.28 h-4.5 M65.75,73.09 h9.3 M372.55,73.09 h-9.3 M65.75,57.91 h4.5 M372.55,57.91 h-4.5 M65.75,42.72 h4.5 M372.55,42.72 h-4.5 M65.75,27.54 h4.5 M372.55,27.54 h-4.5 M65.75,12.35 h4.5 M372.55,12.35 h-4.5" stroke="#000" stroke-width="1.1" fill="none"/>
<text x="65.45" y="242.6" font-size="15.6" text-anchor="middle">0</text>
<text x="106.36" y="242.6" font-size="15.6" text-anchor="middle">0.2</text>
<text x="147.26" y="242.6" font-size="15.6" text-anchor="middle">0.4</text>
<text x="188.17" y="242.6" font-size="15.6" text-anchor="middle">0.6</text>
<text x="229.08" y="242.6" font-size="15.6" text-anchor="middle">0.8</text>
<text x="269.98" y="242.6" font-size="15.6" text-anchor="middle">1.0</text>
<text x="310.89" y="242.6" font-size="15.6" text-anchor="middle">1.2</text>
<text x="351.80" y="242.6" font-size="15.6" text-anchor="middle">1.4</text>
<text x="60.0" y="230.45" font-size="15.6" text-anchor="end">0</text>
<text x="60.0" y="154.52" font-size="15.6" text-anchor="end">0.5</text>
<text x="60.0" y="78.59" font-size="15.6" text-anchor="end">1.0</text>
<text x="268.31" y="33.7" font-size="15.6">Model</text>
<text x="268.11" y="55.9" font-size="15.6">LO</text>
<text x="289.84" y="55.9" font-size="15.6">,</text>
<text x="296.44" y="55.9" font-size="15.6">4</text>
<text x="307.67" y="55.9" font-size="15.6">GeV</text>
<text x="337.86" y="50.0" font-size="13">2</text>
<text x="268.11" y="77.9" font-size="15.6">LO</text>
<text x="289.84" y="77.9" font-size="15.6">,</text>
<text x="297.53" y="77.9" font-size="15.6">100</text>
<text x="324.27" y="77.9" font-size="15.6">GeV</text>
<text x="354.46" y="72.0" font-size="13">2</text>
<text transform="translate(171.88,268.1) scale(1.05,0.97)" font-size="20.0">M</text>
<text x="191.19" y="259.7" font-size="15.6">2</text>
<text x="189.4" y="274.3" font-size="15.6">h</text>
<text transform="translate(203.89,267.8) scale(1.05,0.97)" font-size="21.5">(</text>
<text transform="translate(210.88,268.1) scale(1.05,0.97)" font-size="20.0">G</text>
<text transform="translate(226.41,268.1) scale(1.05,0.97)" font-size="20.0">e</text>
<text transform="translate(234.77,268.1) scale(1.05,0.97)" font-size="20.0">V</text>
<text x="250.39" y="258.8" font-size="15.6">2</text>
<text transform="translate(259.49,267.8) scale(1.05,0.97)" font-size="21.5">)</text>
<path d="M7.6,191.2 C5.4,192.8 5.6,196.4 9.5,197.3 C14,198.4 20,198.2 26,199.2 C30,199.9 32.9,202 32.4,204 C32.1,205 31.6,205.5 30.8,205.6" fill="none" stroke="#000" stroke-width="1.5" stroke-linecap="round"/>
<text transform="translate(10.2,189.54) rotate(-90)" font-size="15.6">0.8</text>
<text transform="translate(37.0,197.34) rotate(-90)" font-size="15.6">0.2</text>
<text transform="translate(27.2,164.45) rotate(-90) scale(1.05,0.97)" font-size="20.0">D</text>
<text transform="translate(31.5,151.97) rotate(-90)" font-size="15.6">u</text>
<text transform="translate(17.9,148.34) rotate(-90)" font-size="18.5" style="stroke:none">π</text>
<text transform="translate(11.6,138.2) rotate(-90)" font-size="9.5" style="stroke:#000;stroke-width:0.3px">-</text>
<text transform="translate(17.9,130.74) rotate(-90)" font-size="18.5" style="stroke:none">π</text>
<text transform="translate(11.6,120.48) rotate(-90)" font-size="9.5" style="stroke:#000;stroke-width:0.25px">+</text>
<text transform="translate(26.5,115.31) rotate(-90) scale(1.05,0.97)" font-size="21.5">(</text>
<text transform="translate(27.2,106.81) rotate(-90) scale(1.05,0.97)" font-size="20.0">z</text>
<text transform="translate(27.2,98.55) rotate(-90) scale(1.05,0.97)" font-size="20.0">,</text>
<text transform="translate(27.2,90.22) rotate(-90) scale(1.05,0.97)" font-size="20.0">M</text>
<text transform="translate(16.5,68.71) rotate(-90)" font-size="15.6">2</text>
<text transform="translate(31.5,72.4) rotate(-90)" font-size="15.6">h</text>
<text transform="translate(26.5,60.81) rotate(-90) scale(1.05,0.97)" font-size="21.5">)</text>
<text transform="translate(27.2,50.75) rotate(-90) scale(1.05,0.97)" font-size="20.0">d</text>
<text transform="translate(27.2,39.01) rotate(-90) scale(1.05,0.97)" font-size="20.0">z</text>
</svg></body></html>
